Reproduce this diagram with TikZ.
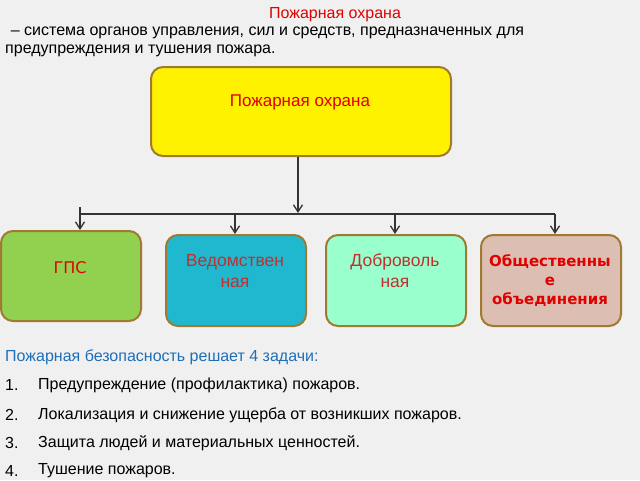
\documentclass[tikz,border=0pt]{standalone}
\usepackage{fontspec}
\setmainfont{Liberation Sans}
\newfontfamily\dvs{DejaVu Sans}
\usetikzlibrary{arrows.meta}
\definecolor{bg}{HTML}{F0F0F0}
\definecolor{bord}{HTML}{A07A30}
\definecolor{rd}{HTML}{E00000}
\definecolor{dr}{HTML}{C03030}
\definecolor{bl}{HTML}{1F6FB8}
\tikzset{
 box/.style={draw=bord,line width=2pt,rounded corners=12pt,anchor=north west,inner sep=0pt},
 arr/.style={-{Straight Barb[length=7pt,width=9pt]},line width=1.3pt,draw=black!80},
 txt/.style={anchor=west,inner sep=0pt,font=\fontsize{16}{18}\selectfont},
}
\begin{document}
\begin{tikzpicture}[x=1pt,y=-1pt]
\fill[bg] (0,0) rectangle (640,480);
\useasboundingbox (0,0) rectangle (640,480);
\node[inner sep=0pt,text=rd,font=\fontsize{16}{18}\selectfont] (title) at (335,15) {Пожарная охрана};
\node[txt] (l1) at (8,33) {\,– система органов управления, сил и средств, предназначенных для};
\node[txt] (l2) at (5,51) {предупреждения и тушения пожара.};
\node[box,fill=yellow,minimum width=300pt,minimum height=89pt] (top) at (150,66) {};
\node[text=rd,font=\fontsize{17}{19}\selectfont] (topt) at (300,102) {Пожарная охрана};
\node[box,fill={rgb,255:red,146;green,208;blue,80},minimum width=140pt,minimum height=90pt] (b1) at (0,230) {};
\node[box,fill={rgb,255:red,31;green,184;blue,207},minimum width=140pt,minimum height=91pt] (b2) at (165,234) {};
\node[box,fill={rgb,255:red,153;green,255;blue,204},minimum width=140pt,minimum height=91pt] (b3) at (325,234) {};
\node[box,fill={rgb,255:red,221;green,190;blue,178},minimum width=140pt,minimum height=91pt] (b4) at (480,234) {};
\node[text=rd,font=\dvs\fontsize{16}{18}\selectfont] (t1) at (70,268) {ГПС};
\node[text=dr,align=center,font=\fontsize{17.5}{21}\selectfont] (t2) at (235,271) {Ведомствен\\ная};
\node[text=dr,align=center,font=\fontsize{17.5}{21}\selectfont] (t3) at (395,271) {Доброволь\\ная};
\node[text=rd,align=center,font=\dvs\bfseries\fontsize{15}{19}\selectfont] (t4) at (550,281) {Общественны\\е\\объединения};
\coordinate (j) at (298,214);
\coordinate (hl) at (80,214);
\coordinate (hr) at (555,214);
\coordinate (tk) at (80,207);
\draw[arr] (top.south -| j) -- (298,213);
\draw[line width=2pt,black!80] (hl) -- (hr);
\draw[line width=1.3pt,black!80] (tk) -- (hl);
\draw[arr] (hl) -- (b1.north -| hl);
\draw[arr] (235,214) -- (b2.north -| 235,0);
\draw[arr] (395,214) -- (b3.north -| 395,0);
\draw[arr] (hr) -- (b4.north -| hr);
\node[txt,text=bl] (h) at (5,357) {Пожарная безопасность решает 4 задачи:};
\node[txt] (n1) at (5,385) {1.}; \node[txt] (i1) at (38,385) {Предупреждение (профилактика) пожаров.};
\node[txt] (n2) at (5,415) {2.}; \node[txt] (i2) at (38,415) {Локализация и снижение ущерба от возникших пожаров.};
\node[txt] (n3) at (5,443) {3.}; \node[txt] (i3) at (38,443) {Защита людей и материальных ценностей.};
\node[txt] (n4) at (5,471) {4.}; \node[txt] (i4) at (38,471) {Тушение пожаров.};
\end{tikzpicture}
\end{document}
